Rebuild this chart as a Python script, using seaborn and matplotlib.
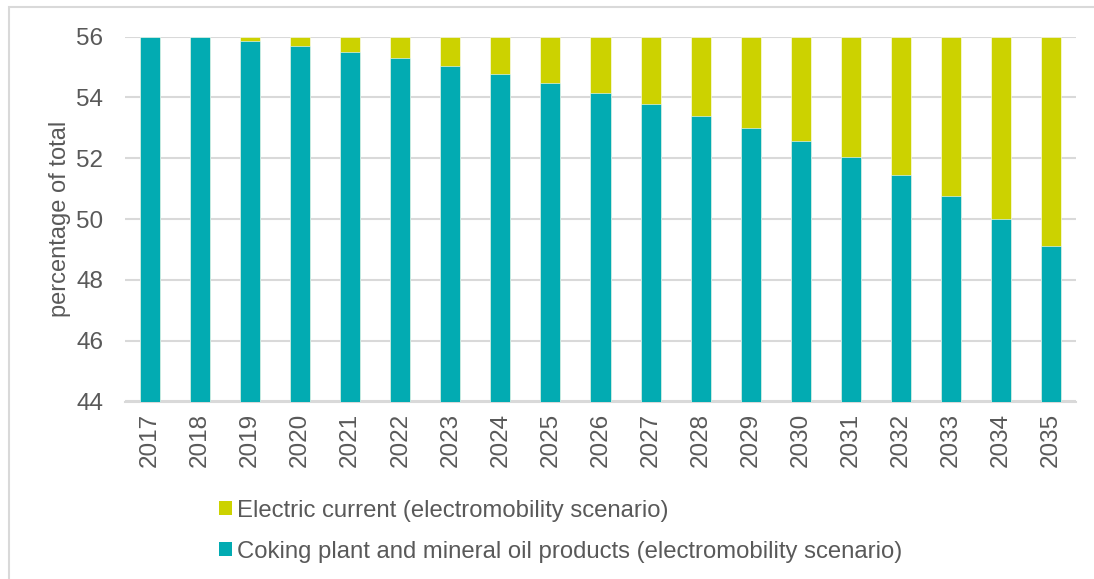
import matplotlib
matplotlib.use("Agg")
import matplotlib.pyplot as plt
import seaborn as sns
import pandas as pd
from matplotlib.patches import Patch, Rectangle

years = [str(y) for y in range(2017, 2036)]
coking = [56.0, 56.0, 55.87, 55.70, 55.51, 55.30, 55.04, 54.78, 54.48, 54.15,
          53.80, 53.40, 53.00, 52.56, 52.04, 51.44, 50.76, 50.00, 49.13]
electric = [0.0, 0.0, 0.13, 0.30, 0.49, 0.70, 0.96, 1.22, 1.52, 1.85,
            2.20, 2.60, 3.00, 3.44, 3.96, 4.56, 5.24, 6.00, 6.87]
labels = ["Electric current (electromobility scenario)",
          "Coking plant and mineral oil products (electromobility scenario)"]
yticks = [44, 46, 48, 50, 52, 54, 56]

teal = "#02ABB2"
lime = "#CCD200"
txt = "#595959"
grid = "#D9D9D9"

sns.set_theme(style="white")
plt.rcParams['font.family'] = ['Liberation Sans', 'DejaVu Sans']

df = pd.DataFrame({"year": years, "coking": coking, "electric": electric})
df["total"] = df["coking"] + df["electric"]

W, H = 1094, 579
fig = plt.figure(figsize=(W / 100, H / 100), dpi=100)
ax = fig.add_axes([125 / W, 1 - 401.5 / H, (1076 - 125) / W, (401.5 - 36.7) / H])

sns.barplot(data=df, x="year", y="total", color=lime, width=0.4, ax=ax,
            saturation=1, edgecolor="white", linewidth=0.4, zorder=3)
sns.barplot(data=df, x="year", y="coking", color=teal, width=0.4, ax=ax,
            saturation=1, edgecolor="white", linewidth=0.4, zorder=3)

ax.set_ylim(44, 56)
ax.set_yticks(yticks)
ax.set_yticklabels([str(t) for t in yticks], fontsize=17.5, color=txt)
ax.tick_params(axis="x", labelrotation=90, labelsize=17.5, labelcolor=txt, length=0, pad=8)
ax.tick_params(axis="y", length=0, pad=15.5)
ax.set_xlabel("")
ax.set_ylabel("percentage of total", fontsize=17, color=txt, labelpad=3.5)
ax.yaxis.grid(True, color=grid, linewidth=1.5, zorder=0)
ax.set_axisbelow(True)
for s in ["top", "right", "left"]:
    ax.spines[s].set_visible(False)
ax.spines["bottom"].set_color(grid)
ax.spines["bottom"].set_linewidth(1.5)
ax.set_xlim(-0.5, len(years) - 0.5)

handles = [Patch(facecolor=lime, edgecolor="none"), Patch(facecolor=teal, edgecolor="none")]
fig.legend(handles, labels, loc="upper left", bbox_to_anchor=(197 / W, 1 - 478 / H),
           frameon=False, fontsize=17.2, labelcolor=txt, handlelength=0.55,
           handleheight=0.55, handletextpad=0.22, labelspacing=0.8)

fig.patches.append(Rectangle((9 / W, -0.05), 1.2, 1 - 7 / H + 0.05,
                             transform=fig.transFigure, fill=False,
                             edgecolor=grid, linewidth=1.5))

fig.savefig("out.png", dpi=100, facecolor="white")
